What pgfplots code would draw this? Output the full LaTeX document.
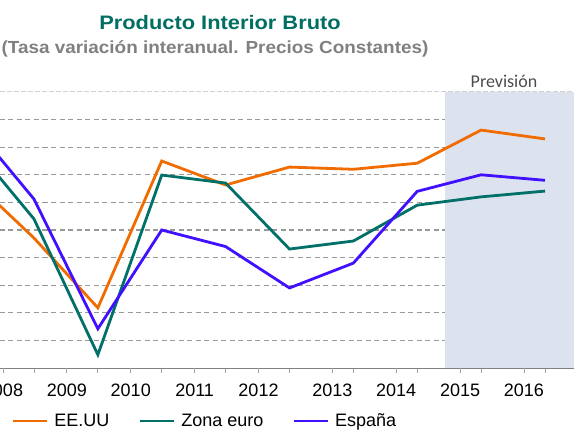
\documentclass[border=0pt]{standalone}
\usepackage{pgfplots}
\pgfplotsset{compat=1.18}
\usepackage{fontspec}
\setmainfont{Liberation Sans}
\newfontfamily\calibri{Carlito}
\usepackage{graphicx}
\definecolor{cUS}{HTML}{F06C00}
\definecolor{cEZ}{HTML}{007068}
\definecolor{cES}{HTML}{4010FF}
\definecolor{ttl}{HTML}{006E62}
\definecolor{shadec}{HTML}{DCE3EF}
\definecolor{gridc}{HTML}{999999}
\begin{document}
\begin{tikzpicture}
\begin{axis}[
  at={(0pt,0pt)}, anchor=south west,
  scale only axis, width=574pt, height=276pt,
  xmin=2007.468, xmax=2016.454, ymin=-5, ymax=5,
  axis x line*=bottom, axis y line*=left,
  y axis line style={draw=none},
  x axis line style={draw=gray, line width=0.9pt},
  ytick={-4,-3,...,4}, yticklabels={},
  ytick style={draw=none},
  extra y ticks={5}, extra y tick labels={},
  extra y tick style={grid style={gray!35, line width=1pt, dash pattern=on 5pt off 2pt}},
  ymajorgrids, grid style={gridc, line width=1.2pt, dash pattern=on 5pt off 3.5pt},
  xtick={2008,...,2016}, xticklabels={},
  tick align=outside, major tick length=5pt,
  xtick style={draw=gray!70, line width=0.8pt},
  extra x ticks={2007.515,2008.515,2009.515,2010.515,2011.515,2012.67,2013.67,2014.67,2015.67},
  extra x tick labels={2008,2009,2010,2011,2012,2013,2014,2015,2016},
  extra x tick style={tick style={draw=none}},
  xticklabel style={font=\fontsize{18}{20}\selectfont, yshift=-7pt},
  legend columns=3,
  legend style={draw=none, fill=none, at={(axis description cs:0.02,-0.192)}, anchor=west,
    font=\fontsize{18}{20}\selectfont, inner sep=0pt,
    /tikz/every odd column/.append style={column sep=4pt},
    /tikz/every even column/.append style={column sep=27pt}},
  legend image code/.code={\draw[#1] (0pt,0pt) -- (34pt,0pt);},
  every axis plot/.append style={line width=2.8pt},
]
\fill[shadec] (axis cs:2014.44,-5) rectangle (axis cs:2016.454,5);
\addplot[cUS] coordinates {(2007,1.9) (2008,-0.29) (2009,-2.82) (2010,2.5) (2011,1.63) (2012,2.28) (2013,2.2) (2014,2.42) (2015,3.62) (2016,3.3)};
\addlegendentry{EE.UU}
\addplot[cEZ] coordinates {(2007,3.19) (2008,0.4) (2009,-4.52) (2010,1.99) (2011,1.7) (2012,-0.69) (2013,-0.4) (2014,0.9) (2015,1.2) (2016,1.41)};
\addlegendentry{Zona euro}
\addplot[cES] coordinates {(2007,3.91) (2008,1.12) (2009,-3.58) (2010,0.0) (2011,-0.6) (2012,-2.1) (2013,-1.2) (2014,1.4) (2015,2.0) (2016,1.8)};
\addlegendentry{España}
\end{axis}
\node[anchor=base, font=\bfseries\fontsize{19.5}{22}\selectfont, text=ttl] at (220pt,338pt) {\scalebox{1.12}[1]{Producto Interior Bruto}};
\node[anchor=base, font=\bfseries\fontsize{17.5}{20}\selectfont, text=gray] at (215pt,314pt) {\scalebox{1.08}[1]{(Tasa variación interanual. Precios Constantes)}};
\node[anchor=base, font=\calibri\fontsize{18}{20}\selectfont, text=black!70] at (504pt,280pt) {Previsión};
\pgfresetboundingbox
\path[use as bounding box] (0pt,-63pt) rectangle (574pt,368pt);
\end{tikzpicture}
\end{document}
